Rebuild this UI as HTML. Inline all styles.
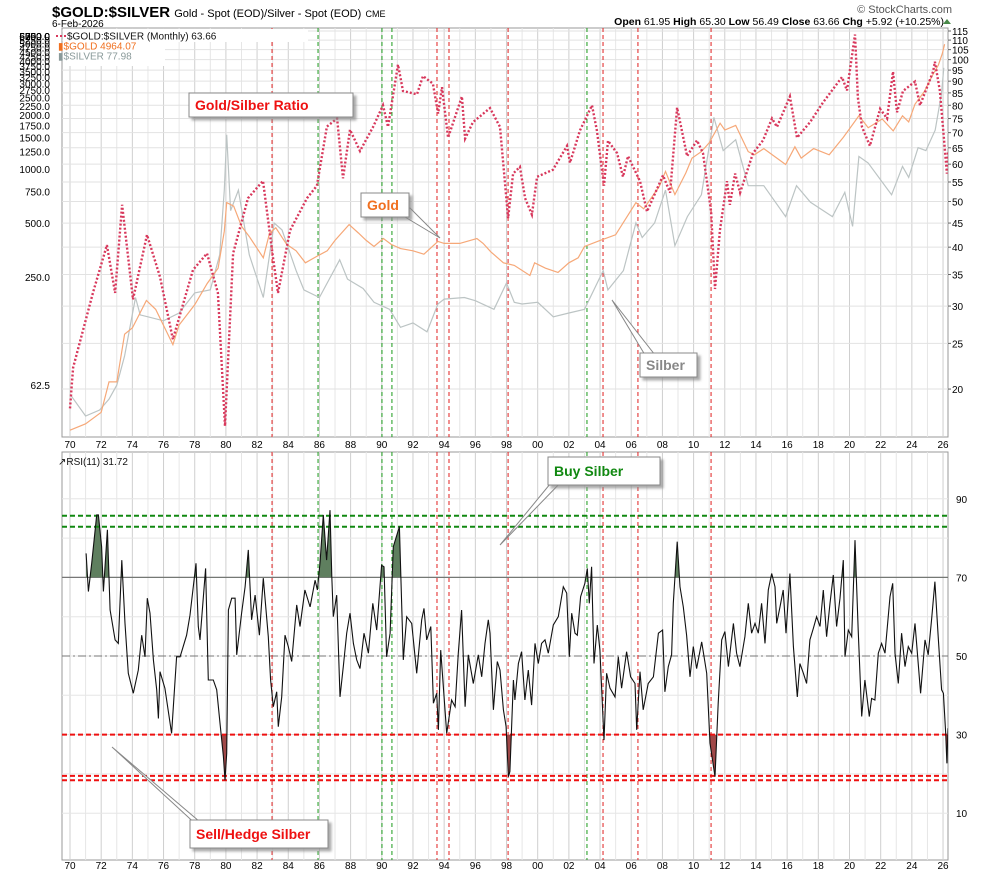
<!DOCTYPE html>
<html><head><meta charset="utf-8"><style>
html,body{margin:0;padding:0;background:#fff}
svg{display:block;font-family:"Liberation Sans",sans-serif}
</style></head><body>
<svg id="c" width="990" height="876" viewBox="0 0 990 876" xmlns="http://www.w3.org/2000/svg">
<rect x="0" y="0" width="990" height="876" fill="#fff"/>
<text x="52" y="17" font-size="15" font-weight="bold" fill="#000">$GOLD:$SILVER <tspan font-size="11" font-weight="normal">Gold - Spot (EOD)/Silver - Spot (EOD)</tspan> <tspan font-size="9" font-weight="normal">CME</tspan></text>
<text x="52" y="27" font-size="10" fill="#000">6-Feb-2026</text>
<text x="952" y="13" font-size="11" fill="#555" text-anchor="end">© StockCharts.com</text>
<text x="944" y="25" font-size="10.5" fill="#000" text-anchor="end"><tspan font-weight="bold">Open</tspan> 61.95  <tspan font-weight="bold">High</tspan> 65.30  <tspan font-weight="bold">Low</tspan> 56.49  <tspan font-weight="bold">Close</tspan> 63.66  <tspan font-weight="bold">Chg</tspan> +5.92 (+10.25%)</text>
<path d="M943 24 L947 19 L951 24 Z" fill="#4a8a4a"/>
<g id="g"></g>
</svg>
<script>
// ---- data ----
const ratioYears=[1970.0,1970.2,1971.48,1972.37,1972.89,1973.34,1974.04,1974.94,1975.77,1976.6,1977.89,1978.79,1979.49,1979.94,1980.46,1981.42,1982.38,1983.02,1983.34,1984.11,1985.2,1985.84,1986.48,1987.13,1987.51,1987.96,1988.6,1989.44,1990.08,1990.4,1991.04,1991.36,1992.26,1992.64,1993.28,1993.61,1993.86,1994.25,1995.14,1995.34,1995.85,1996.94,1997.58,1998.1,1998.42,1998.86,1999.19,1999.63,1999.96,2000.98,2001.88,2002.07,2002.71,2003.48,2003.8,2004.25,2004.51,2005.09,2005.47,2005.79,2006.56,2007.01,2008.04,2008.49,2008.94,2009.58,2010.22,2010.6,2011.12,2011.37,2011.69,2012.14,2012.33,2012.66,2012.98,2013.81,2014.45,2015.03,2015.35,2016.18,2016.63,2017.47,2018.3,2019.52,2019.84,2020.35,2020.54,2020.8,2021.31,2021.96,2022.41,2022.79,2023.05,2023.43,2024.2,2024.52,2025.36,2025.48,2025.8,2026.25,2026.32];
const ratioValues=[18.2,22.2,32.1,40.4,32,49.2,31,42.5,34.6,25.5,35.8,38.8,32,16.7,38.8,50.8,55.3,38,32,43.4,50.8,54,72.1,75,56,71,64,72,80,72,97.6,85.8,84.4,92.3,88.9,76.8,87.4,68.3,83.5,68,73.7,78.9,72,46.1,57.3,59.2,50.8,46.9,56.4,58.4,65.6,60.4,70.7,80,70.7,54,67.3,63.3,56.4,62.4,55.2,47.6,56.8,52.2,79.1,62.4,67.4,63.3,47.6,32.6,43.4,55.2,49.2,57.3,52.2,63.3,67.4,75,72,83.5,68.3,73.7,81.1,91.8,86,113,83,72,65.6,78.6,75,94.3,77.3,85.8,89.8,80,94.3,99,85.8,57.3,63.66];
const goldYears=[1970,1971,1972,1972.5,1973,1973.5,1974,1974.9,1975.5,1976.6,1977,1978,1978.8,1979.5,1979.9,1980.05,1980.5,1981,1981.5,1982.4,1982.8,1983.2,1983.9,1984.5,1985.1,1985.8,1986.5,1987,1987.9,1988.5,1989,1989.5,1990.1,1990.6,1991.2,1992,1992.7,1993.6,1994,1995,1996.1,1996.5,1997,1997.8,1998.5,1999.5,1999.8,2000.5,2001.3,2002,2002.6,2003,2004,2005,2006.3,2006.8,2007.8,2008.2,2008.8,2009.5,2009.9,2010.5,2011,2011.7,2012,2012.7,2013.5,2013.9,2014.5,2015.9,2016.5,2016.9,2017.7,2018.7,2019.6,2020.6,2021.2,2022.1,2022.8,2023.4,2023.8,2024.2,2024.8,2025.3,2025.7,2025.95,2026.1];
const goldValues=[35,38,44,65,65,120,130,185,165,105,135,175,230,280,450,650,620,480,420,320,440,470,380,350,300,325,350,400,490,440,400,370,410,380,360,350,335,395,385,385,410,385,345,300,290,255,300,280,265,300,320,370,400,430,650,600,800,970,720,950,1150,1250,1400,1800,1650,1750,1250,1200,1300,1060,1330,1150,1300,1200,1500,1980,1700,1900,1630,1980,1830,2300,2700,3300,3800,4400,4964];
const silverYears=[1970,1971,1971.9,1972.5,1973,1973.5,1974.2,1974.5,1975,1976,1977,1978,1979,1979.6,1979.9,1980.05,1980.3,1980.8,1981.5,1982.4,1983.1,1983.6,1984.5,1985,1986,1987.3,1987.8,1988.8,1989.5,1990.5,1991.2,1992,1992.9,1993.6,1994,1995.3,1996,1997.2,1998,1998.5,1999,2000,2001,2002,2003,2004.2,2004.5,2005.5,2006.3,2006.7,2007.5,2008.2,2008.8,2009.6,2010.5,2011.3,2011.9,2012.7,2013.5,2014.5,2015.9,2016.6,2017.5,2018.9,2019.7,2020.2,2020.6,2021.2,2022.7,2023.4,2023.8,2024.4,2024.9,2025.5,2025.9,2026.05];
const silverValues=[1.8,1.4,1.5,1.7,2,2.8,5.5,4.5,4.4,4.2,4.6,5.8,6,9,19,36,15,19,9,5.5,13,12,7.5,6,5.5,8.5,6.8,6.1,5.2,4.8,3.9,4.1,3.7,5.1,5.4,5.5,5.3,4.8,6.5,5.2,5.1,5.2,4.4,4.6,4.8,7.5,6,7.5,13,11,13,19,10,14,18,44,30,34,20,20,14,20,16.5,14,18.5,12.5,28,26,18,25,22,31,30,38,58,78];
const rsiYears=[1971.03,1971.18,1971.39,1971.71,1971.82,1972.03,1972.14,1972.4,1972.57,1972.89,1973.1,1973.32,1973.53,1973.74,1974.06,1974.38,1974.6,1974.81,1974.96,1975.13,1975.35,1975.56,1975.67,1975.77,1976.09,1976.52,1976.84,1977.06,1977.48,1977.7,1978.08,1978.23,1978.34,1978.7,1978.87,1979.19,1979.41,1979.62,1979.84,1979.94,1980.05,1980.16,1980.37,1980.59,1980.69,1981.01,1981.23,1981.44,1981.65,1981.87,1982.15,1982.4,1982.72,1982.87,1983.04,1983.26,1983.36,1983.58,1983.79,1984.0,1984.22,1984.54,1984.75,1985.07,1985.4,1985.72,1985.87,1986.04,1986.25,1986.46,1986.68,1986.79,1986.89,1987.11,1987.32,1987.53,1987.75,1987.96,1988.18,1988.39,1988.6,1988.86,1989.14,1989.42,1989.67,1989.99,1990.14,1990.31,1990.53,1990.74,1991.13,1991.38,1991.6,1991.92,1992.24,1992.56,1992.71,1992.88,1993.14,1993.31,1993.52,1993.63,1993.78,1994.16,1994.48,1994.7,1994.91,1995.12,1995.34,1995.55,1995.87,1996.19,1996.41,1996.62,1996.83,1996.94,1997.16,1997.41,1997.58,1997.8,1997.97,1998.12,1998.22,1998.44,1998.54,1998.76,1998.97,1999.18,1999.4,1999.61,1999.83,2000.04,2000.25,2000.47,2000.68,2001.0,2001.32,2001.64,2001.86,2002.03,2002.18,2002.39,2002.54,2002.75,2003.03,2003.18,2003.31,2003.46,2003.61,2003.82,2003.99,2004.25,2004.42,2004.64,2004.96,2005.17,2005.38,2005.7,2005.96,2006.24,2006.35,2006.56,2006.77,2007.09,2007.42,2007.74,2008.01,2008.16,2008.38,2008.59,2008.7,2008.95,2009.13,2009.34,2009.55,2009.77,2009.98,2010.19,2010.52,2010.84,2011.05,2011.37,2011.58,2011.8,2012.01,2012.23,2012.55,2012.76,2012.97,2013.29,2013.51,2013.72,2013.94,2014.15,2014.36,2014.58,2014.79,2015.01,2015.22,2015.33,2015.54,2015.75,2015.93,2016.18,2016.4,2016.65,2016.82,2017.04,2017.25,2017.46,2017.68,2017.89,2018.11,2018.32,2018.53,2018.75,2018.96,2019.17,2019.39,2019.6,2019.71,2019.92,2020.14,2020.35,2020.56,2020.78,2020.99,2021.27,2021.42,2021.63,2021.85,2022.06,2022.28,2022.6,2022.77,2022.92,2023.13,2023.34,2023.56,2023.77,2023.99,2024.2,2024.56,2024.84,2025.05,2025.27,2025.48,2025.69,2025.91,2026.02,2026.17,2026.25,2026.32];
const rsiValues=[76.1,66.4,73.6,85.9,85.9,77.8,66.4,82.1,61.7,54.1,53.2,74.4,58.3,45.6,40.5,46.4,55.3,49.8,64.7,60.9,49.0,41.4,34.1,46.0,41.8,30.3,49.8,49.8,55.3,60.4,73.6,57.5,54.1,72.3,43.9,43.9,41.4,32.9,24.4,18.4,25.2,61.7,64.7,64.7,50.3,60.9,67.6,77.0,59.2,65.5,55.3,69.8,54.9,43.9,37.1,40.9,32.0,39.6,55.3,52.4,48.6,63.0,57.5,66.8,62.5,69.3,66.8,74.0,85.9,74.4,87.1,70.2,60.0,65.5,39.6,47.3,55.8,60.9,53.2,49.0,46.8,55.8,50.7,63.4,56.6,73.1,72.7,49.8,55.8,77.8,82.9,49.0,60.0,58.3,45.6,59.2,62.1,54.1,57.5,38.0,40.5,31.2,51.5,30.3,38.8,37.1,50.7,61.7,37.1,50.3,43.0,50.3,44.7,53.2,59.2,55.8,36.3,48.6,46.4,36.3,32.0,19.3,20.6,43.9,38.8,48.1,51.1,38.8,46.4,37.5,53.2,48.1,53.2,54.1,50.7,57.9,60.0,67.6,66.0,49.8,60.9,55.8,55.3,65.1,68.5,72.3,63.4,72.7,48.1,57.9,51.5,28.6,45.6,41.8,39.6,49.8,41.8,51.1,44.7,43.0,31.2,46.0,36.3,43.0,44.7,55.8,56.6,40.9,47.3,50.3,63.4,79.1,67.6,62.5,55.3,44.7,52.4,46.8,53.6,45.6,27.8,19.3,38.0,54.1,56.2,47.3,58.3,50.7,47.3,54.9,63.4,55.8,58.3,55.8,63.4,53.2,66.8,71.0,67.6,58.3,62.5,66.8,55.8,71.0,52.4,39.6,48.1,45.6,43.0,54.1,57.0,60.0,57.5,66.8,54.9,63.4,70.6,57.5,64.7,74.4,49.8,56.6,54.9,79.5,56.6,34.6,43.9,34.6,39.2,38.8,50.7,53.2,50.7,65.1,68.5,50.7,43.0,55.8,47.3,52.4,50.7,58.3,40.5,54.1,50.3,59.6,68.9,54.9,41.4,40.5,30.3,22.7,31.6];
const eventYears=[1982.96,1985.91,1990.01,1990.65,1993.54,1994.31,1998.1,2003.16,2004.19,2006.43,2011.12];
const eventKinds=['sell','buy','buy','buy','sell','sell','sell','buy','sell','sell','sell'];
const xTickYears=[1970,1972,1974,1976,1978,1980,1982,1984,1986,1988,1990,1992,1994,1996,1998,2000,2002,2004,2006,2008,2010,2012,2014,2016,2018,2020,2022,2024,2026];
const ratioTicks=[115,110,105,100,95,90,85,80,75,70,65,60,55,50,45,40,35,30,25,20];
const goldTicks=[62.5,250,500,750,1000,1250,1500,1750,2000,2250,2500,2750,3000,3250,3500,3750,4000,4250,4500,4750,5000,5250,5500,5750,6000,6250,6500,6750];
const rsiTicks=[90,70,50,30,10];
const rsiGreenLevels=[85.7,82.9];
const rsiRedLevels=[30,19.5,18.4];

// ---- scales ----
const L=62,R=948,T1=28,B1=437,T2=452,B2=860;
const X=y=>70+(y-1970)*15.59;
const YR=v=>31+204.7*Math.log(115/v);
const YG=v=>277-77.9*Math.log(v/250);
const YS=v=>410-86.6*Math.log(v/1.5);
const YRSI=v=>656-(v-50)*3.93;
const NS='http://www.w3.org/2000/svg';
const G=document.getElementById('g');
function mk(tag,attrs,parent){const e=document.createElementNS(NS,tag);for(const k in attrs)e.setAttribute(k,attrs[k]);(parent||G).appendChild(e);return e;}
function txt(x,y,s,attrs,parent){const e=mk('text',Object.assign({x:x,y:y},attrs),parent);e.textContent=s;return e;}
function pathFrom(xs,vs,fy){return xs.map((t,i)=>(i?'L':'M')+X(t).toFixed(1)+' '+fy(vs[i]).toFixed(1)).join(' ');}

// defs / clips
const defs=mk('defs',{});
const c1=mk('clipPath',{id:'clip1'},defs);mk('rect',{x:L,y:T1,width:R-L,height:B1-T1},c1);
const c2=mk('clipPath',{id:'clip2'},defs);mk('rect',{x:L,y:T2,width:R-L,height:B2-T2},c2);
const cHi=mk('clipPath',{id:'clipHi'},defs);mk('rect',{x:L,y:T2,width:R-L,height:YRSI(70)-T2},cHi);
const cLo=mk('clipPath',{id:'clipLo'},defs);mk('rect',{x:L,y:YRSI(30),width:R-L,height:B2-YRSI(30)},cLo);
const f=mk('filter',{id:'sh',x:'-10%',y:'-10%',width:'130%',height:'150%'},defs);
mk('feDropShadow',{dx:3,dy:3,stdDeviation:1.2,'flood-color':'#888','flood-opacity':0.7},f);

// panels
[[T1,B1,'price-panel'],[T2,B2,'rsi-panel']].forEach(p=>{
  const r=mk('rect',{x:L,y:p[0],width:R-L,height:p[1]-p[0],fill:'#fff',stroke:'#999','stroke-width':1});
  
  
});
// vertical grid every year
for(let yr=1970;yr<=2026;yr++){
  const x=X(yr);
  [[T1,B1],[T2,B2]].forEach(p=>{
    const l=mk('line',{x1:x,x2:x,y1:p[0],y2:p[1],stroke:yr%2===0?'#cfcfcf':'#e6e6e6','stroke-width':1});
    
    
  });
}
// horizontal grid top (ratio ticks)
ratioTicks.forEach(v=>{
  const y=YR(v);
  const l=mk('line',{x1:L,x2:R,y1:y,y2:y,stroke:'#e2e2e2','stroke-width':1});
  
  
  const t=txt(952,y+4,String(v),{'font-size':10,fill:'#000'});
  
  
  mk('line',{x1:R,x2:R+3,y1:y,y2:y,stroke:'#666'});
});
goldTicks.forEach(v=>{
  const y=Math.max(36,YG(v));
  const t=txt(50,y+4,v.toFixed(1).replace('62.5.0','62.5'),{'font-size':10,fill:'#000','text-anchor':'end'});
  t.textContent=(v===62.5?'62.5':v.toFixed(1));
  
  
});
// rsi grid
for(let v=10;v<=90;v+=10){
  const y=YRSI(v);
  const l=mk('line',{x1:L,x2:R,y1:y,y2:y,stroke:'#e6e6e6','stroke-width':1});
  
  
}
rsiTicks.forEach(v=>{
  const y=YRSI(v);
  const t=txt(956,y+4,String(v),{'font-size':10,fill:'#000'});
  
  
});
let l70=mk('line',{x1:L,x2:R,y1:YRSI(70),y2:YRSI(70),stroke:'#777','stroke-width':1.2});


let l50=mk('line',{x1:L,x2:R,y1:YRSI(50),y2:YRSI(50),stroke:'#777','stroke-width':1,'stroke-dasharray':'8,3,2,3'});


// x tick labels
xTickYears.forEach(yr=>{
  const lab=String(yr).slice(2);
  [[444+4],[869]].forEach(p=>{
    const t=txt(X(yr),p[0],lab,{'font-size':10,fill:'#000','text-anchor':'middle'});
    
    
  });
});
// event lines
eventYears.forEach((yr,i)=>{
  const col=eventKinds[i]==='buy'?'#1a9a1a':'#e02020';
  [[T1,B1],[T2,B2]].forEach(p=>{
    const l=mk('line',{x1:X(yr),x2:X(yr),y1:p[0],y2:p[1],stroke:col,'stroke-width':1,'stroke-dasharray':'4,3'});
    
    
  });
});
// series top
const gs=mk('g',{'clip-path':'url(#clip1)'});
const sp=mk('path',{d:pathFrom(silverYears,silverValues,YS),fill:'none',stroke:'#bcc4c4','stroke-width':1.2},gs);


const gp=mk('path',{d:pathFrom(goldYears,goldValues,YG),fill:'none',stroke:'#f6a878','stroke-width':1.2},gs);


const rp=mk('path',{d:pathFrom(ratioYears,ratioValues,YR),fill:'none',stroke:'#d8385c','stroke-width':2.4,'stroke-dasharray':'2,2'},gs);



// RSI series with fills
const rsiD=pathFrom(rsiYears,rsiValues,YRSI);
const x0=X(rsiYears[0]),xN=X(rsiYears[rsiYears.length-1]);
const hi=mk('path',{d:rsiD+' L'+xN+' '+YRSI(70)+' L'+x0+' '+YRSI(70)+' Z',fill:'#5f7f5f','clip-path':'url(#clipHi)'});


const lo=mk('path',{d:rsiD+' L'+xN+' '+YRSI(30)+' L'+x0+' '+YRSI(30)+' Z',fill:'#a04848','clip-path':'url(#clipLo)'});


rsiGreenLevels.forEach(v=>{
  const l=mk('line',{x1:L,x2:R,y1:YRSI(v),y2:YRSI(v),stroke:'#118811','stroke-width':2,'stroke-dasharray':'5,3'});
  
  
});
rsiRedLevels.forEach(v=>{
  const l=mk('line',{x1:L,x2:R,y1:YRSI(v),y2:YRSI(v),stroke:'#ee1111','stroke-width':2,'stroke-dasharray':'5,3'});
  
  
});
const rl=mk('path',{d:rsiD,fill:'none',stroke:'#111','stroke-width':1.1,'clip-path':'url(#clip2)'});



// legends
const lg=mk('rect',{x:63,y:29,width:245,height:13,fill:'#fff'});


mk('rect',{x:63,y:42,width:102,height:24,fill:'#fff'});
mk('line',{x1:56,x2:66,y1:36,y2:36,stroke:'#d8385c','stroke-width':2,'stroke-dasharray':'2,2'});
let t1=txt(67,39.5,'$GOLD:$SILVER (Monthly) 63.66',{'font-size':10,fill:'#111'});


let t2=txt(58,49.5,'\u25AE$GOLD 4964.07',{'font-size':10,fill:'#f07020'});


let t3=txt(58,59.5,'\u25AE$SILVER 77.98',{'font-size':10,fill:'#8a9a9a'});


let t4=txt(58,465,'\u2197RSI(11) 31.72',{'font-size':10,fill:'#111'});



// annotations
function callout(pts){
  const p=mk('polygon',{points:pts,fill:'#fff',stroke:'#888','stroke-width':1});
  
  
}
function box(x,y,w,h,s,col,name){
  const r=mk('rect',{x:x,y:y,width:w,height:h,fill:'#fff',stroke:'#888','stroke-width':1,filter:'url(#sh)'});
  
  
  const t=txt(x+6,y+h/2+5,s,{'font-size':14,'font-weight':'bold',fill:col});
  
  
}
callout('400,214 440,238 410,208');
callout('612,300 655,355 645,355');
callout('555,478 500,545 565,478');
callout('112,747 200,828 200,822');
box(189,93,164,24,'Gold/Silber Ratio','#ee1111','ratio-annotation');
box(361,193,48,24,'Gold','#f07020','gold-annotation');
box(640,353,57,24,'Silber','#888','silver-annotation');
box(548,457,112,28,'Buy Silber','#118811','buy-silver-annotation');
box(190,820,138,28,'Sell/Hedge Silber','#ee1111','sell-silver-annotation');
</script>
</body></html>
